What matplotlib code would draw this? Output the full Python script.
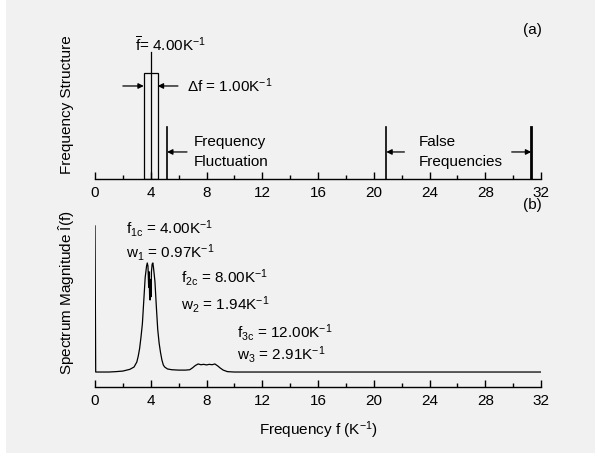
'''recreation of the two-panel frequency structure / spectrum figure'''
import matplotlib
matplotlib.use('Agg')
import matplotlib.pyplot as plt
from matplotlib.patches import Rectangle
from matplotlib.ticker import MultipleLocator

plt.rcParams['font.family'] = ['Liberation Sans', 'DejaVu Sans']
plt.rcParams['font.size'] = 11
plt.rcParams['mathtext.fontset'] = 'custom'
plt.rcParams['mathtext.rm'] = 'Liberation Sans'
plt.rcParams['mathtext.it'] = 'Liberation Sans'
plt.rcParams['mathtext.bf'] = 'Liberation Sans:bold'

# ---- data: panel (a) frequency structure
f_mean = 4.00
delta_f = 1.00
f_fluct = 5.17
false_freqs = [20.9, 31.3]

# ---- data: panel (b) spectrum magnitude
spec_f = [0.0, 0.05, 1.0, 1.5, 2.0, 2.5, 2.8, 3.0, 3.1, 3.2, 3.3, 3.4, 3.5,
          3.6, 3.7, 3.75, 3.8, 3.85, 3.88, 3.92, 3.95, 3.98, 4.02, 4.05,
          4.1, 4.15, 4.2, 4.3, 4.4, 4.5, 4.6, 4.7, 4.8, 4.9, 5.0, 5.2, 5.5,
          6.0, 6.5, 6.8, 7.0, 7.2, 7.4, 7.6, 7.8, 8.0, 8.2, 8.4, 8.6, 8.8,
          9.0, 9.2, 9.5, 10.0, 32.0]
spec_mag = [0.839, 0.078, 0.078, 0.080, 0.083, 0.092, 0.104, 0.130, 0.160,
            0.200, 0.260, 0.330, 0.450, 0.570, 0.630, 0.646, 0.630, 0.520,
            0.600, 0.470, 0.453, 0.560, 0.470, 0.600, 0.640, 0.646, 0.620,
            0.550, 0.420, 0.300, 0.229, 0.180, 0.141, 0.115, 0.104, 0.094,
            0.090, 0.088, 0.088, 0.090, 0.100, 0.112, 0.120, 0.116, 0.118,
            0.115, 0.118, 0.116, 0.120, 0.110, 0.098, 0.088, 0.080, 0.078,
            0.078]

peak_labels = [
    (r'f$_{\mathrm{1c}}$ = 4.00K$^{\mathrm{-1}}$', r'w$_{\mathrm{1}}$ = 0.97K$^{\mathrm{-1}}$'),
    (r'f$_{\mathrm{2c}}$ = 8.00K$^{\mathrm{-1}}$', r'w$_{\mathrm{2}}$ = 1.94K$^{\mathrm{-1}}$'),
    (r'f$_{\mathrm{3c}}$ = 12.00K$^{\mathrm{-1}}$', r'w$_{\mathrm{3}}$ = 2.91K$^{\mathrm{-1}}$'),
]

W, H = 595, 459
fig = plt.figure(figsize=(W / 100, H / 100), dpi=100)
fig.patch.set_facecolor('white')
fig.patches.append(Rectangle((6 / W, 6 / H), 1, 1, transform=fig.transFigure,
                             facecolor='#f1f1f1', edgecolor='none', zorder=-10))

x0, x1 = 95, 541
ax1 = fig.add_axes([x0 / W, 1 - 179 / H, (x1 - x0) / W, 159 / H])
ax2 = fig.add_axes([x0 / W, 1 - 387 / H, (x1 - x0) / W, 192 / H])


def style_axis(ax):
    ax.set_facecolor('none')
    for s in ['top', 'right', 'left']:
        ax.spines[s].set_visible(False)
    ax.spines['bottom'].set_linewidth(1.0)
    ax.set_xlim(0, 32)
    ax.set_ylim(0, 1)
    ax.set_yticks([])
    ax.xaxis.set_major_locator(MultipleLocator(4))
    ax.xaxis.set_minor_locator(MultipleLocator(2))
    ax.tick_params(axis='x', which='major', direction='in', length=5,
                   width=1, pad=5, labelsize=11)
    ax.tick_params(axis='x', which='minor', direction='in', length=3, width=1)


style_axis(ax1)
style_axis(ax2)

# ---- panel (a)
ax1.add_patch(Rectangle((f_mean - delta_f / 2, 0), delta_f, 0.667,
                        facecolor='none', edgecolor='black', lw=0.9))
ax1.plot([f_mean, f_mean], [0, 0.80], color='black', lw=0.9)
ax1.plot([f_fluct, f_fluct], [0, 0.327], color='black', lw=1.2)
ax1.plot([false_freqs[0], false_freqs[0]], [0, 0.327], color='black', lw=1.2)
ax1.plot([false_freqs[1], false_freqs[1]], [0, 0.327], color='black', lw=2.0)

arrow = dict(arrowstyle='-|>', color='black', lw=0.9, mutation_scale=8,
             shrinkA=0, shrinkB=0)
ax1.annotate('', xy=(f_mean - delta_f / 2, 0.585), xytext=(2.0, 0.585), arrowprops=arrow)
ax1.annotate('', xy=(f_mean + delta_f / 2, 0.585), xytext=(5.95, 0.585), arrowprops=arrow)
ax1.annotate('', xy=(f_fluct, 0.17), xytext=(6.6, 0.17), arrowprops=arrow)
ax1.annotate('', xy=(false_freqs[0], 0.17), xytext=(22.2, 0.17), arrowprops=arrow)
ax1.annotate('', xy=(false_freqs[1], 0.17), xytext=(29.9, 0.17), arrowprops=arrow)

ax1.text(2.87, 0.843, r'$\overline{\mathrm{f}}$= 4.00K$^{\mathrm{-1}}$', va='center', ha='left')
ax1.text(6.6, 0.585, r'$\Delta$f = 1.00K$^{\mathrm{-1}}$', va='center', ha='left')
ax1.text(7.1, 0.233, 'Frequency', va='center', ha='left')
ax1.text(7.1, 0.107, 'Fluctuation', va='center', ha='left')
ax1.text(23.2, 0.233, 'False', va='center', ha='left')
ax1.text(23.2, 0.107, 'Frequencies', va='center', ha='left')
ax1.text(31.4, 0.937, '(a)', va='center', ha='center')

# ---- panel (b)
ax2.plot(spec_f, spec_mag, color='black', lw=0.9)
label_x = [2.22, 6.17, 10.2]
label_y = [(0.823, 0.703), (0.568, 0.432), (0.286, 0.167)]
for (l1, l2), lx, (y1, y2) in zip(peak_labels, label_x, label_y):
    ax2.text(lx, y1, l1, va='center', ha='left')
    ax2.text(lx, y2, l2, va='center', ha='left')
ax2.text(31.4, 0.948, '(b)', va='center', ha='center')
ax2.set_xlabel(r'Frequency f (K$^{\mathrm{-1}}$)', fontsize=11, labelpad=8)

fig.text(67 / W, 1 - 105 / H, 'Frequency Structure', rotation=90,
         va='center', ha='center', fontsize=11)
fig.text(67 / W, 1 - 293 / H, r'Spectrum Magnitude $\hat{\mathrm{I}}$(f)', rotation=90,
         va='center', ha='center', fontsize=11)

fig.savefig('out.png', dpi=100, facecolor=fig.get_facecolor())
